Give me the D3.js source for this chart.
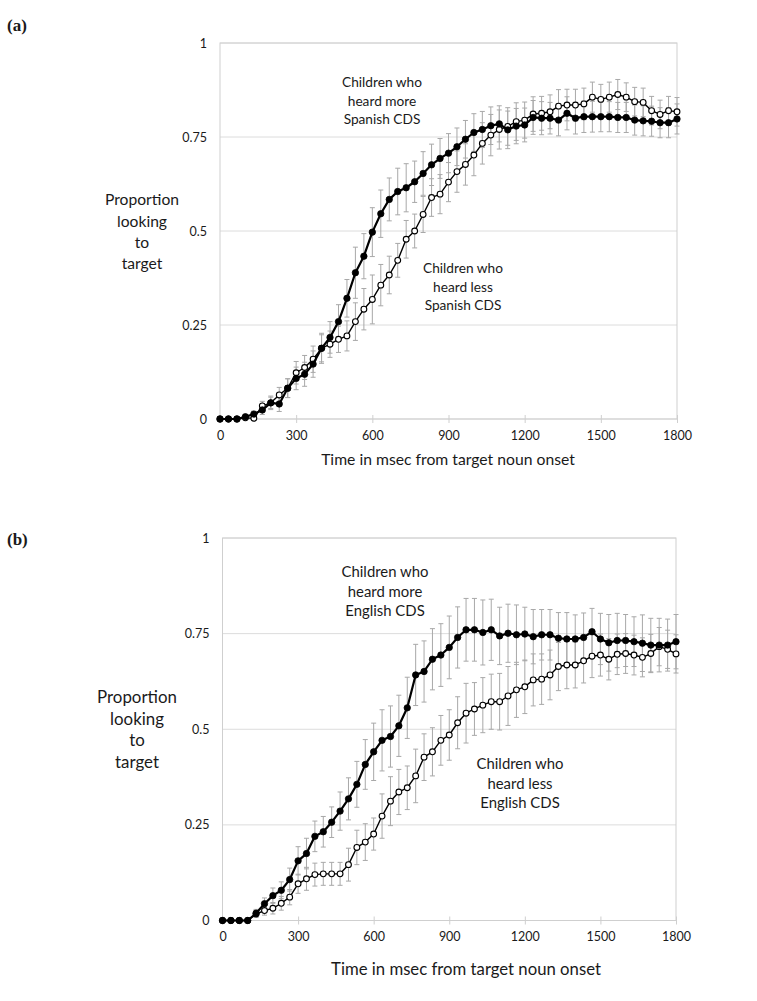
<!DOCTYPE html>
<html><head><meta charset="utf-8">
<script src="https://cdn.jsdelivr.net/npm/d3@7"></script>
<style>
body{margin:0;background:#fff}
svg{display:block}
text{font-family:Lato,"Open Sans",sans-serif;fill:#1a1a1a}
</style>
</head><body>
<svg id="chart" width="757" height="1001"></svg>
<script>
// ---------- data ----------
const timeMs = [0,33.3,66.7,100,133.3,166.7,200,233.3,266.7,300,333.3,366.7,400,433.3,466.7,500,533.3,566.7,600,633.3,666.7,700,733.3,766.7,800,833.3,866.7,900,933.3,966.7,1000,1033.3,1066.7,1100,1133.3,1166.7,1200,1233.3,1266.7,1300,1333.3,1366.7,1400,1433.3,1466.7,1500,1533.3,1566.7,1600,1633.3,1666.7,1700,1733.3,1766.7,1800];

const xTicks = [0,300,600,900,1200,1500,1800];
const yTicks = [0,0.25,0.5,0.75,1];
const yTickLabels = ["0","0.25","0.5","0.75","1"];

// Panel (a): Spanish CDS
const spanishMore = [0,0,0,0.006,0.013,0.024,0.043,0.040,0.082,0.108,0.119,0.146,0.188,0.217,0.259,0.321,0.389,0.433,0.497,0.546,0.584,0.605,0.615,0.631,0.653,0.676,0.693,0.707,0.724,0.744,0.762,0.770,0.780,0.785,0.769,0.779,0.782,0.802,0.800,0.800,0.795,0.813,0.800,0.804,0.804,0.804,0.804,0.802,0.802,0.795,0.793,0.792,0.788,0.788,0.798];
const spanishMoreErr = [0,0,0,0.005,0.008,0.012,0.018,0.020,0.025,0.030,0.032,0.035,0.040,0.042,0.045,0.050,0.068,0.060,0.065,0.063,0.057,0.062,0.064,0.055,0.058,0.055,0.053,0.052,0.050,0.050,0.050,0.048,0.050,0.048,0.050,0.047,0.045,0.045,0.044,0.042,0.042,0.044,0.042,0.042,0.041,0.040,0.040,0.040,0.040,0.040,0.040,0.040,0.040,0.040,0.040];
const spanishLess = [0,0,0,0.003,0.002,0.035,0.043,0.064,0.082,0.123,0.137,0.159,0.188,0.199,0.212,0.221,0.259,0.292,0.318,0.356,0.383,0.422,0.478,0.500,0.544,0.589,0.598,0.630,0.658,0.677,0.702,0.733,0.755,0.770,0.778,0.791,0.795,0.811,0.813,0.817,0.832,0.835,0.835,0.838,0.856,0.850,0.856,0.863,0.856,0.844,0.842,0.820,0.810,0.820,0.817];
const spanishLessErr = [0,0,0,0.004,0.005,0.012,0.015,0.020,0.025,0.030,0.032,0.035,0.036,0.035,0.035,0.040,0.050,0.055,0.065,0.055,0.050,0.045,0.050,0.045,0.048,0.050,0.052,0.052,0.055,0.055,0.055,0.055,0.055,0.052,0.050,0.050,0.048,0.046,0.045,0.045,0.044,0.042,0.042,0.042,0.040,0.040,0.040,0.040,0.038,0.038,0.038,0.038,0.038,0.038,0.038];

// Panel (b): English CDS
const englishMore = [0,0,0,0,0.019,0.044,0.065,0.079,0.107,0.156,0.175,0.220,0.232,0.257,0.286,0.318,0.356,0.408,0.441,0.471,0.481,0.509,0.556,0.642,0.651,0.683,0.694,0.714,0.740,0.760,0.760,0.753,0.760,0.744,0.751,0.747,0.749,0.742,0.747,0.747,0.738,0.736,0.736,0.740,0.755,0.736,0.726,0.732,0.732,0.729,0.725,0.720,0.720,0.720,0.729];
const englishMoreErr = [0,0,0,0,0.010,0.015,0.020,0.022,0.030,0.037,0.040,0.040,0.040,0.040,0.050,0.055,0.060,0.065,0.075,0.080,0.080,0.080,0.080,0.080,0.080,0.080,0.082,0.082,0.080,0.082,0.082,0.085,0.080,0.075,0.076,0.078,0.070,0.071,0.066,0.066,0.067,0.069,0.063,0.064,0.061,0.067,0.074,0.071,0.068,0.065,0.074,0.070,0.070,0.068,0.071];
const englishLess = [0,0,0,0,0.017,0.026,0.032,0.045,0.061,0.096,0.109,0.120,0.122,0.122,0.122,0.146,0.191,0.205,0.226,0.273,0.312,0.336,0.347,0.378,0.427,0.441,0.471,0.485,0.517,0.542,0.553,0.563,0.572,0.572,0.587,0.603,0.611,0.629,0.631,0.642,0.664,0.668,0.668,0.679,0.691,0.694,0.683,0.696,0.698,0.694,0.688,0.698,0.716,0.709,0.697];
const englishLessErr = [0,0,0,0,0.008,0.012,0.015,0.018,0.020,0.025,0.030,0.030,0.030,0.030,0.030,0.043,0.045,0.048,0.042,0.058,0.064,0.059,0.057,0.070,0.061,0.063,0.065,0.066,0.068,0.078,0.069,0.072,0.072,0.074,0.077,0.072,0.070,0.068,0.066,0.065,0.063,0.062,0.060,0.058,0.056,0.055,0.054,0.053,0.052,0.052,0.051,0.050,0.050,0.050,0.050];

const panelLabels = ["(a)","(b)"];
const xAxisTitle = "Time in msec from target noun onset";
const yAxisTitle = ["Proportion","looking","to","target"];
const annotationsA = [["Children who","heard more","Spanish CDS"],["Children who","heard less","Spanish CDS"]];
const annotationsB = [["Children who","heard more","English CDS"],["Children who","heard less","English CDS"]];

// ---------- drawing ----------
const svg = d3.select("#chart");

function fitFont(sel, target){
  const w = sel.node().getComputedTextLength();
  const fs = parseFloat(sel.attr("font-size"));
  return fs * target / w;
}

function drawPanel(cfg){
  const g = svg.append("g");
  const x = d3.scaleLinear().domain([0,1800]).range([cfg.x0, cfg.x1]);
  const y = d3.scaleLinear().domain([0,1]).range([cfg.y0, cfg.y1]);

  // gridlines
  g.append("g").selectAll("line").data(yTicks).join("line")
    .attr("x1", cfg.x0).attr("x2", cfg.x1)
    .attr("y1", d => y(d)).attr("y2", d => y(d))
    .attr("stroke", "#dcdcdc").attr("stroke-width", 1);
  // frame
  g.append("rect").attr("x", cfg.x0).attr("y", y(1)).attr("width", cfg.x1-cfg.x0).attr("height", y(0)-y(1))
    .attr("fill","none").attr("stroke","#cfcfcf").attr("stroke-width",1);

  // x axis via d3 axis
  const xAxis = d3.axisBottom(x).tickValues(xTicks).tickFormat(d3.format("d")).tickSize(4).tickPadding(8);
  const ax = g.append("g").attr("transform", `translate(0,${y(0)})`).call(xAxis);
  ax.select(".domain").remove();
  ax.selectAll(".tick line").attr("stroke","#cfcfcf").attr("y1",-4);
  ax.selectAll(".tick text").attr("font-family","Lato").attr("font-size",12.5).attr("fill","#1a1a1a");

  // y axis
  const yAxis = d3.axisLeft(y).tickValues(yTicks).tickFormat((d,i) => yTickLabels[i]).tickSize(0).tickPadding(cfg.yPad);
  const ay = g.append("g").attr("transform", `translate(${cfg.x0},0)`).call(yAxis);
  ay.select(".domain").remove();
  ay.selectAll(".tick text").attr("font-family","Lato").attr("font-size",12.5).attr("fill","#1a1a1a");

  // error bars
  const series = [
    {v: cfg.less, e: cfg.lessErr, filled:false},
    {v: cfg.more, e: cfg.moreErr, filled:true}
  ];
  series.forEach(s => {
    const eg = g.append("g").attr("stroke","#a8a8a8").attr("stroke-width",1);
    timeMs.forEach((t,i) => {
      if (s.e[i] <= 0.003) return;
      const cx = x(t), top = y(s.v[i]+s.e[i]), bot = y(s.v[i]-s.e[i]);
      eg.append("line").attr("x1",cx).attr("x2",cx).attr("y1",top).attr("y2",bot);
      eg.append("line").attr("x1",cx-2.5).attr("x2",cx+2.5).attr("y1",top).attr("y2",top);
      eg.append("line").attr("x1",cx-2.5).attr("x2",cx+2.5).attr("y1",bot).attr("y2",bot);
    });
  });

  series.forEach(s => {
    const line = d3.line().x((d,i) => x(timeMs[i])).y(d => y(d));
    g.append("path").datum(s.v).attr("d", line).attr("fill","none")
      .attr("stroke","#000").attr("stroke-width", s.filled ? 2.2 : 1.4).attr("stroke-linejoin","round");
    g.append("g").selectAll("circle").data(s.v).join("circle")
      .attr("cx", (d,i) => x(timeMs[i])).attr("cy", d => y(d))
      .attr("r", s.filled ? 3.2 : 2.9)
      .attr("fill", s.filled ? "#000" : "#fff")
      .attr("stroke","#000").attr("stroke-width", s.filled ? 0.8 : 1.1);
  });

  // panel label
  svg.append("text").text(cfg.label).attr("x",7).attr("y",cfg.labelY)
    .attr("font-family","'Liberation Serif','Times New Roman',serif").attr("font-weight","bold").attr("font-size",17)
    .style("font-family","'Liberation Serif','Times New Roman',serif");

  // x axis title
  const xt = svg.append("text").text(xAxisTitle).attr("x",cfg.xtX).attr("y",cfg.xtY).attr("dy","0.35em")
    .attr("text-anchor","middle").attr("font-size",15);
  xt.attr("font-size", fitFont(xt, cfg.xtW));

  // y axis title
  const first = svg.append("text").text(yAxisTitle[0]).attr("font-size",15);
  const yfs = fitFont(first, cfg.ytW);
  first.remove();
  yAxisTitle.forEach((s,i) => {
    svg.append("text").text(s).attr("x",cfg.ytX).attr("y",cfg.ytY + i*cfg.ytStep).attr("dy","0.35em")
      .attr("text-anchor","middle").attr("font-size",yfs);
  });

  // annotations
  const probe = svg.append("text").text(cfg.ann[0][0]).attr("font-size",15);
  const afs = fitFont(probe, cfg.annW);
  probe.remove();
  cfg.ann.forEach((lines,k) => {
    lines.forEach((s,i) => {
      svg.append("text").text(s).attr("x",cfg.annPos[k][0]).attr("y",cfg.annPos[k][1] + i*cfg.annStep).attr("dy","0.35em")
        .attr("text-anchor","middle").attr("font-size",afs);
    });
  });
}

drawPanel({
  x0:220, x1:677, y0:419, y1:43, yPad:13,
  more: spanishMore, moreErr: spanishMoreErr, less: spanishLess, lessErr: spanishLessErr,
  label: panelLabels[0], labelY: 31,
  xtX: 448, xtY: 459, xtW: 254,
  ytX: 142, ytY: 200, ytStep: 21.2, ytW: 74,
  ann: annotationsA, annW: 80, annStep: 18.8, annPos: [[382,82],[463,268]]
});
drawPanel({
  x0:222.5, x1:676, y0:920.5, y1:538, yPad:13,
  more: englishMore, moreErr: englishMoreErr, less: englishLess, lessErr: englishLessErr,
  label: panelLabels[1], labelY: 545,
  xtX: 466, xtY: 969, xtW: 270,
  ytX: 137, ytY: 697, ytStep: 21.7, ytW: 80,
  ann: annotationsB, annW: 87, annStep: 19.5, annPos: [[385,572],[520,764]]
});
</script>
</body></html>
